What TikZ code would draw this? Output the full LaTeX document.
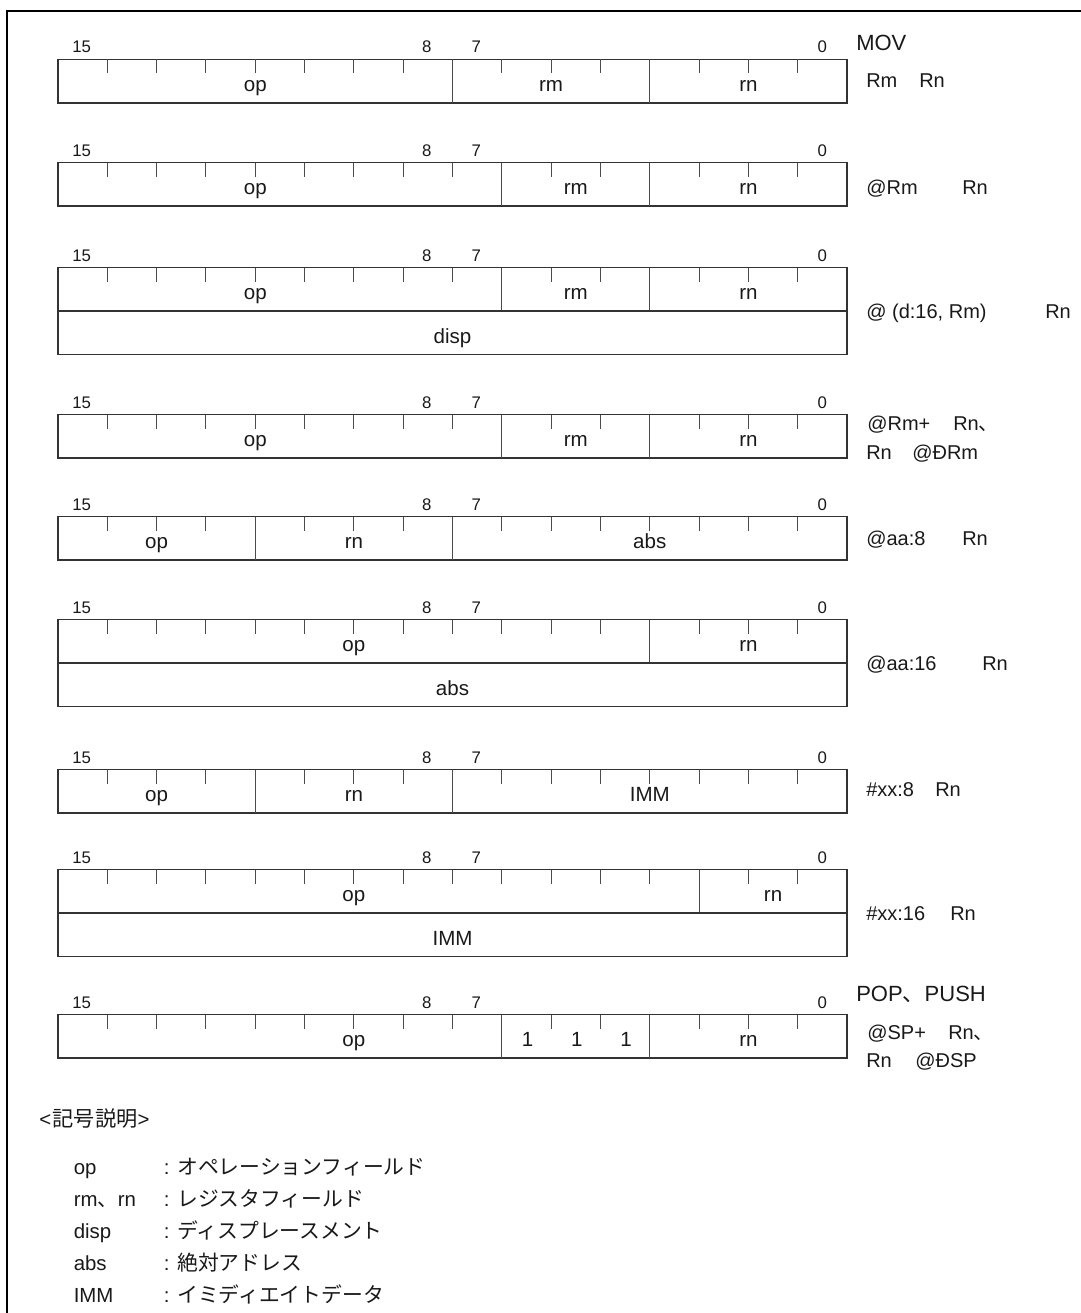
\documentclass[tikz,border=0pt]{standalone}
\usepackage{fontspec}
\setmainfont{Liberation Sans}
\newfontfamily\cjk{Noto Sans CJK JP}
\newcommand\bw{49.3125}
\tikzset{
  outerframe/.style={line width=1.9pt, draw=black, line join=miter},
  boxline/.style={line width=1.0pt, draw=black!80},
  divline/.style={line width=0.8pt, draw=black!70},
  tickline/.style={line width=0.8pt, draw=black!70},
  bitnum/.style={font=\fontsize{12.6}{14}\selectfont, inner sep=0pt, anchor=base, text=black!90},
  fieldtxt/.style={font=\fontsize{15.4}{17}\selectfont, inner sep=0pt, anchor=base, text=black!90},
  rlabel/.style={font=\fontsize{15}{17}\selectfont, inner sep=0pt, anchor=base west, text=black!90},
  rhead/.style={font=\fontsize{16.5}{19}\selectfont, inner sep=0pt, anchor=base west, text=black!90},
  legtxt/.style={font=\fontsize{15.3}{18}\selectfont, inner sep=0pt, anchor=base west, text=black!90},
  legjp/.style={font=\cjk\fontsize{15.6}{18}\selectfont, inner sep=0pt, anchor=base west, text=black!90},
}
% #1 id, #2 label centre y, #3 divider bit positions
\newcommand\mkrow[3]{%
  \pgfmathsetmacro\rT{#2+12.5}%
  \pgfmathsetmacro\rB{#2+56}%
  \pgfmathsetmacro\rL{#2+6}%
  \draw[boxline] (58,\rT) rectangle (847,\rB);
  \foreach \k in {1,...,15}{\draw[tickline] ({58+\k*\bw},\rT) -- ({58+\k*\bw},{\rT+14});}
  \foreach \k in {#3}{\draw[divline] ({58+\k*\bw},\rT) -- ({58+\k*\bw},\rB);}
  \node[bitnum] (#1-b15) at ({58+0.48*\bw},\rL) {15};
  \node[bitnum] (#1-b8) at ({58+7.48*\bw},\rL) {8};
  \node[bitnum] (#1-b7) at ({58+8.48*\bw},\rL) {7};
  \node[bitnum] (#1-b0) at ({58+15.5*\bw},\rL) {0};
}
% second line: #1 label centre y
\newcommand\mksecond[1]{%
  \pgfmathsetmacro\rB{#1+56}%
  \pgfmathsetmacro\rC{#1+99.5}%
  \draw[boxline] (58,\rB) rectangle (847,\rC);
}
% #1 name, #2 baseline y, #3 centre in bits, #4 text
\newcommand\mkfield[4]{%
  \node[fieldtxt] (#1) at ({58+#3*\bw},#2) {#4};
}
\begin{document}
\begin{tikzpicture}[x=0.75pt,y=-0.75pt]
\useasboundingbox (0,0) rectangle (1081,1313);
\draw[outerframe] (1081,11) -- (7,11) -- (7,1313);

% Row 1
\mkrow{r1}{47}{8,12}
\mkfield{r1op}{91.5}{4}{op}
\mkfield{r1rm}{91.5}{10}{rm}
\mkfield{r1rn}{91.5}{14}{rn}
\node[rhead] (r1h) at (856,51) {MOV};
\node[rlabel] (r1a) at (866,88) {Rm};
\node[rlabel] (r1b) at (919,88) {Rn};

% Row 2
\mkrow{r2}{150}{9,12}
\mkfield{r2op}{194.5}{4}{op}
\mkfield{r2rm}{194.5}{10.5}{rm}
\mkfield{r2rn}{194.5}{14}{rn}
\node[rlabel] (r2a) at (866,194) {@Rm};
\node[rlabel] (r2b) at (962,194) {Rn};

% Row 3
\mkrow{r3}{255}{9,12}
\mksecond{255}
\mkfield{r3op}{299.5}{4}{op}
\mkfield{r3rm}{299.5}{10.5}{rm}
\mkfield{r3rn}{299.5}{14}{rn}
\mkfield{r3disp}{343}{8}{disp}
\node[rlabel] (r3a) at (866,318) {@ (d:16, Rm)};
\node[rlabel] (r3b) at (1045,318) {Rn};

% Row 4
\mkrow{r4}{402}{9,12}
\mkfield{r4op}{446.5}{4}{op}
\mkfield{r4rm}{446.5}{10.5}{rm}
\mkfield{r4rn}{446.5}{14}{rn}
\node[rlabel] (r4a) at (867,430.5) {@Rm+};
\node[rlabel] (r4b) at (953,430.5) {Rn{\cjk 、}};
\node[rlabel] (r4c) at (866,459) {Rn};
\node[rlabel] (r4d) at (912,459) {@ĐRm};

% Row 5
\mkrow{r5}{504}{4,8}
\mkfield{r5op}{548.5}{2}{op}
\mkfield{r5rn}{548.5}{6}{rn}
\mkfield{r5abs}{548.5}{12}{abs}
\node[rlabel] (r5a) at (866,545) {@aa:8};
\node[rlabel] (r5b) at (962,545) {Rn};

% Row 6
\mkrow{r6}{607}{12}
\mksecond{607}
\mkfield{r6op}{651.5}{6}{op}
\mkfield{r6rn}{651.5}{14}{rn}
\mkfield{r6abs}{695}{8}{abs}
\node[rlabel] (r6a) at (866,670) {@aa:16};
\node[rlabel] (r6b) at (982,670) {Rn};

% Row 7
\mkrow{r7}{757}{4,8}
\mkfield{r7op}{801.5}{2}{op}
\mkfield{r7rn}{801.5}{6}{rn}
\mkfield{r7imm}{801.5}{12}{IMM}
\node[rlabel] (r7a) at (866,796) {\#xx:8};
\node[rlabel] (r7b) at (935,796) {Rn};

% Row 8
\mkrow{r8}{857}{13}
\mksecond{857}
\mkfield{r8op}{901.5}{6}{op}
\mkfield{r8rn}{901.5}{14.5}{rn}
\mkfield{r8imm}{945}{8}{IMM}
\node[rlabel] (r8a) at (866,920) {\#xx:16};
\node[rlabel] (r8b) at (950,920) {Rn};

% Row 9
\mkrow{r9}{1002}{9,12}
\mkfield{r9op}{1046.5}{6}{op}
\mkfield{r9one}{1046.5}{9.52}{1}
\mkfield{r9two}{1046.5}{10.52}{1}
\mkfield{r9three}{1046.5}{11.52}{1}
\mkfield{r9rn}{1046.5}{14}{rn}
\node[rhead] (r9h) at (856,1001) {POP{\cjk 、}PUSH};
\node[rlabel] (r9a) at (867,1039) {@SP+};
\node[rlabel] (r9b) at (948,1039) {Rn{\cjk 、}};
\node[rlabel] (r9c) at (866,1067) {Rn};
\node[rlabel] (r9d) at (915,1067) {@ĐSP};

% Legend
\node[legtxt] (lh) at (39,1126.5) {<\kern1.2pt{\cjk\fontsize{15.9}{18}\selectfont 記号説明}>};
\node[legtxt] (l1a) at (73.5,1174) {op};
\node[legtxt] (l1c) at (163.5,1174) {:};
\node[legjp]  (l1b) at (177,1174) {オペレーションフィールド};
\node[legtxt] (l2a) at (73.5,1206) {rm{\cjk 、}rn};
\node[legtxt] (l2c) at (163.5,1206) {:};
\node[legjp]  (l2b) at (177,1206) {レジスタフィールド};
\node[legtxt] (l3a) at (73.5,1238) {disp};
\node[legtxt] (l3c) at (163.5,1238) {:};
\node[legjp]  (l3b) at (177,1238) {ディスプレースメント};
\node[legtxt] (l4a) at (73.5,1270) {abs};
\node[legtxt] (l4c) at (163.5,1270) {:};
\node[legjp]  (l4b) at (177,1270) {絶対アドレス};
\node[legtxt] (l5a) at (73.5,1302) {IMM};
\node[legtxt] (l5c) at (163.5,1302) {:};
\node[legjp]  (l5b) at (177,1302) {イミディエイトデータ};
\end{tikzpicture}
\end{document}
